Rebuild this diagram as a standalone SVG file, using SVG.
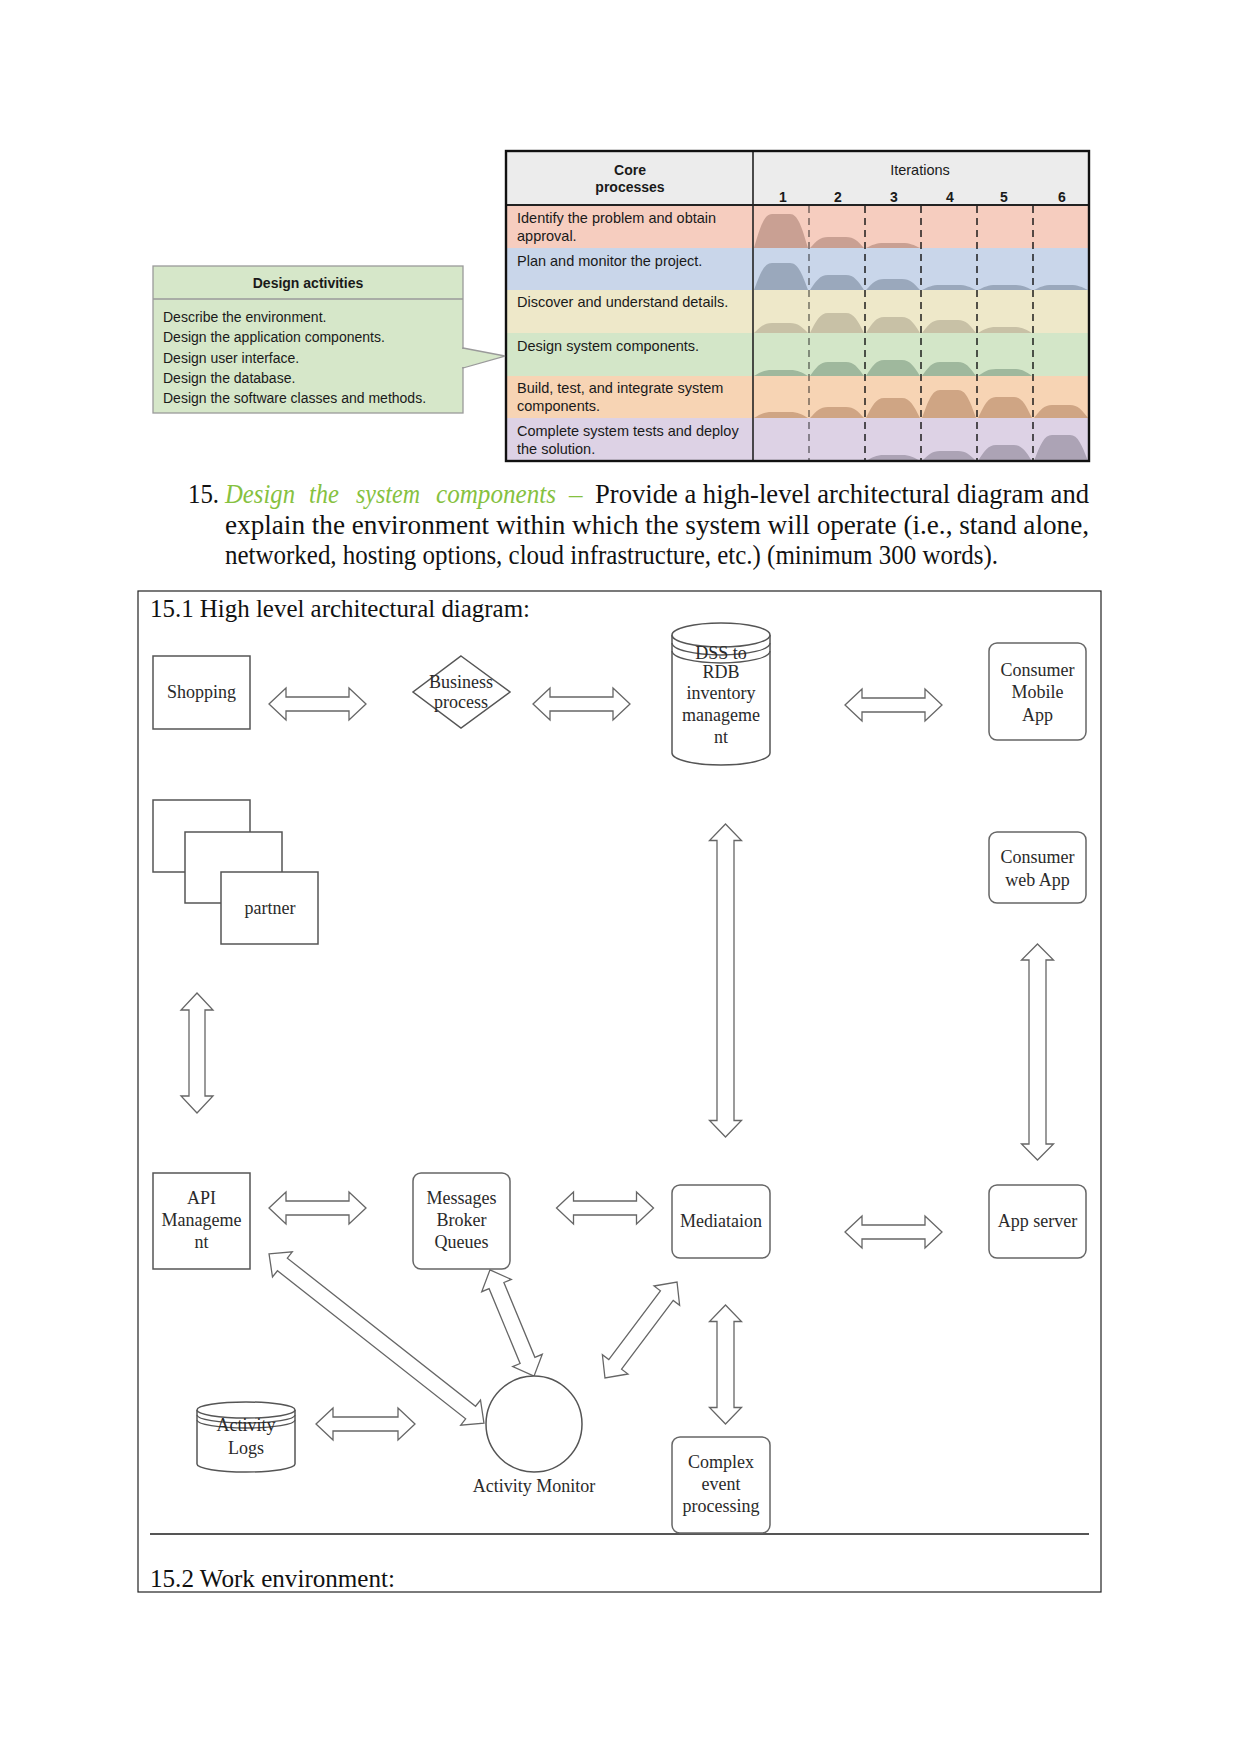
<svg xmlns="http://www.w3.org/2000/svg" xmlns:xlink="http://www.w3.org/1999/xlink" width="1241" height="1754" viewBox="0 0 1241 1754">
<style>
.sans{font-family:"Liberation Sans",Arial,sans-serif;fill:#1a1a1a}
.tt{font-size:14.5px}
.hd{font-size:14px;font-weight:bold}
.serif{font-family:"Liberation Serif","Times New Roman",serif}
.body{font-size:27px;fill:#111}
.lbl{font-family:"Liberation Serif","Times New Roman",serif;font-size:18px;fill:#2a2a2a;text-anchor:middle}
.box{fill:#fff;stroke:#555;stroke-width:1.5}
.rbox{fill:#fff;stroke:#666;stroke-width:1.5}
.dbl{fill:#fff;stroke:#666;stroke-width:1.3;stroke-linejoin:miter}
.dash{stroke:#111;stroke-width:1.4;stroke-dasharray:7,5}
.grn{font-style:italic;fill:#86c13f}
</style>
<defs>
<path id="m" d="M0,0 C6,-18 10,-30 18,-30 L36,-30 C44,-30 48,-18 54,0 Z"/>
</defs>
<rect width="1241" height="1754" fill="#fff"/>

<g id="iterations-table">
<rect x="506" y="151" width="583" height="54" fill="#ececec"/>
<rect x="506" y="205" width="583" height="43" fill="#f6cdbf"/>
<rect x="506" y="248" width="583" height="42" fill="#c9d6ea"/>
<rect x="506" y="290" width="583" height="43" fill="#eee8c9"/>
<rect x="506" y="333" width="583" height="43" fill="#d3e6c8"/>
<rect x="506" y="376" width="583" height="42" fill="#f7d4b4"/>
<rect x="506" y="418" width="583" height="43" fill="#ddd2e5"/>
<g fill="#c9a093">
<use xlink:href="#m" transform="translate(754,248) scale(1,1.133)"/>
<use xlink:href="#m" transform="translate(810,248) scale(1,0.367)"/>
<use xlink:href="#m" transform="translate(866,248) scale(1,0.167)"/>
</g>
<g fill="#9aa8bc">
<use xlink:href="#m" transform="translate(754,290) scale(1,0.9)"/>
<use xlink:href="#m" transform="translate(810,290) scale(1,0.5)"/>
<use xlink:href="#m" transform="translate(866,290) scale(1,0.367)"/>
<use xlink:href="#m" transform="translate(922,290) scale(1,0.167)"/>
<use xlink:href="#m" transform="translate(978,290) scale(1,0.167)"/>
<use xlink:href="#m" transform="translate(1034,290) scale(1,0.167)"/>
</g>
<g fill="#c8c1a6">
<use xlink:href="#m" transform="translate(754,333) scale(1,0.333)"/>
<use xlink:href="#m" transform="translate(810,333) scale(1,0.667)"/>
<use xlink:href="#m" transform="translate(866,333) scale(1,0.533)"/>
<use xlink:href="#m" transform="translate(922,333) scale(1,0.433)"/>
<use xlink:href="#m" transform="translate(978,333) scale(1,0.2)"/>
</g>
<g fill="#9fb89d">
<use xlink:href="#m" transform="translate(754,376) scale(1,0.2)"/>
<use xlink:href="#m" transform="translate(810,376) scale(1,0.467)"/>
<use xlink:href="#m" transform="translate(866,376) scale(1,0.533)"/>
<use xlink:href="#m" transform="translate(922,376) scale(1,0.467)"/>
<use xlink:href="#m" transform="translate(978,376) scale(1,0.233)"/>
</g>
<g fill="#cfa584">
<use xlink:href="#m" transform="translate(754,418) scale(1,0.2)"/>
<use xlink:href="#m" transform="translate(810,418) scale(1,0.367)"/>
<use xlink:href="#m" transform="translate(866,418) scale(1,0.667)"/>
<use xlink:href="#m" transform="translate(922,418) scale(1,0.933)"/>
<use xlink:href="#m" transform="translate(978,418) scale(1,0.7)"/>
<use xlink:href="#m" transform="translate(1034,418) scale(1,0.433)"/>
</g>
<g fill="#aca3b5">
<use xlink:href="#m" transform="translate(866,461) scale(1,0.2)"/>
<use xlink:href="#m" transform="translate(922,461) scale(1,0.333)"/>
<use xlink:href="#m" transform="translate(978,461) scale(1,0.533)"/>
<use xlink:href="#m" transform="translate(1034,461) scale(1,0.867)"/>
</g>
<line class="dash" x1="809" y1="206" x2="809" y2="461" stroke-opacity="0.6"/>
<line class="dash" x1="865" y1="206" x2="865" y2="461"/>
<line class="dash" x1="921" y1="206" x2="921" y2="461"/>
<line class="dash" x1="977" y1="206" x2="977" y2="461"/>
<line class="dash" x1="1033" y1="206" x2="1033" y2="461"/>
<line x1="753" y1="151" x2="753" y2="461" stroke="#222" stroke-width="1.6"/>
<line x1="506" y1="205" x2="1089" y2="205" stroke="#222" stroke-width="2"/>
<rect x="506" y="151" width="583" height="310" fill="none" stroke="#111" stroke-width="2.4"/>
<text class="sans hd" x="630" y="175" text-anchor="middle">Core</text>
<text class="sans hd" x="630" y="192" text-anchor="middle">processes</text>
<text class="sans" x="920" y="175" text-anchor="middle" font-size="14.5">Iterations</text>
<g class="sans hd" text-anchor="middle">
<text x="783" y="202">1</text>
<text x="838" y="202">2</text>
<text x="894" y="202">3</text>
<text x="950" y="202">4</text>
<text x="1004" y="202">5</text>
<text x="1062" y="202">6</text>
</g>
<g class="sans tt">
<text x="517" y="223">Identify the problem and obtain</text>
<text x="517" y="241">approval.</text>
<text x="517" y="266">Plan and monitor the project.</text>
<text x="517" y="307">Discover and understand details.</text>
<text x="517" y="351">Design system components.</text>
<text x="517" y="393">Build, test, and integrate system</text>
<text x="517" y="411">components.</text>
<text x="517" y="436">Complete system tests and deploy</text>
<text x="517" y="454">the solution.</text>
</g>
</g>

<g id="design-activities">
<rect x="153" y="266" width="310" height="147" fill="#d6e7c9" stroke="#9a9a9a" stroke-width="1.3"/>
<line x1="153" y1="299" x2="463" y2="299" stroke="#9a9a9a" stroke-width="1.3"/>
<polygon points="463,348 505,356 463,368" fill="#d6e7c9" stroke="#9a9a9a" stroke-width="1.3"/>
<line x1="463" y1="349" x2="463" y2="367" stroke="#d6e7c9" stroke-width="2.5"/>
<text class="sans hd" x="308" y="288" text-anchor="middle">Design activities</text>
<g class="sans" font-size="14">
<text x="163" y="322">Describe the environment.</text>
<text x="163" y="342">Design the application components.</text>
<text x="163" y="363">Design user interface.</text>
<text x="163" y="383">Design the database.</text>
<text x="163" y="403">Design the software classes and methods.</text>
</g>
</g>

<g id="paragraph" class="serif body">
<text x="188" y="503" textLength="31" lengthAdjust="spacingAndGlyphs">15.</text>
<text class="grn" x="225" y="503" textLength="70" lengthAdjust="spacingAndGlyphs">Design</text>
<text class="grn" x="309" y="503" textLength="30" lengthAdjust="spacingAndGlyphs">the</text>
<text class="grn" x="356" y="503" textLength="64" lengthAdjust="spacingAndGlyphs">system</text>
<text class="grn" x="436" y="503" textLength="120" lengthAdjust="spacingAndGlyphs">components</text>
<text class="grn" x="569" y="503">–</text>
<text x="595" y="503" textLength="494" lengthAdjust="spacingAndGlyphs">Provide a high-level architectural diagram and</text>
<text x="225" y="534" textLength="864" lengthAdjust="spacingAndGlyphs">explain the environment within which the system will operate (i.e., stand alone,</text>
<text x="225" y="564" textLength="773" lengthAdjust="spacingAndGlyphs">networked, hosting options, cloud infrastructure, etc.) (minimum 300 words).</text>
</g>

<g id="frame">
<rect x="138" y="591" width="963" height="1001" fill="none" stroke="#222" stroke-width="1.2"/>
<text class="serif" font-size="26" fill="#111" x="150" y="617" textLength="380" lengthAdjust="spacingAndGlyphs">15.1 High level architectural diagram:</text>
<line x1="150" y1="1534" x2="1089" y2="1534" stroke="#555" stroke-width="2"/>
<text class="serif" font-size="26" fill="#111" x="150" y="1587" textLength="245" lengthAdjust="spacingAndGlyphs">15.2 Work environment:</text>
</g>

<g id="connectors">
<polygon class="dbl" transform="translate(317.5,704)" points="-48.5,0 -31.5,-16 -31.5,-7 31.5,-7 31.5,-16 48.5,0 31.5,16 31.5,7 -31.5,7 -31.5,16"/>
<polygon class="dbl" transform="translate(581.5,704)" points="-48.5,0 -31.5,-16 -31.5,-7 31.5,-7 31.5,-16 48.5,0 31.5,16 31.5,7 -31.5,7 -31.5,16"/>
<polygon class="dbl" transform="translate(893.5,705)" points="-48.5,0 -31.5,-16 -31.5,-7 31.5,-7 31.5,-16 48.5,0 31.5,16 31.5,7 -31.5,7 -31.5,16"/>
<polygon class="dbl" transform="translate(317.5,1208)" points="-48.5,0 -31.5,-16 -31.5,-7 31.5,-7 31.5,-16 48.5,0 31.5,16 31.5,7 -31.5,7 -31.5,16"/>
<polygon class="dbl" transform="translate(605,1208)" points="-48.5,0 -31.5,-16 -31.5,-7 31.5,-7 31.5,-16 48.5,0 31.5,16 31.5,7 -31.5,7 -31.5,16"/>
<polygon class="dbl" transform="translate(893.5,1232)" points="-48.5,0 -31.5,-16 -31.5,-7 31.5,-7 31.5,-16 48.5,0 31.5,16 31.5,7 -31.5,7 -31.5,16"/>
<polygon class="dbl" transform="translate(365.5,1424)" points="-49.5,0 -32.5,-16 -32.5,-7 32.5,-7 32.5,-16 49.5,0 32.5,16 32.5,7 -32.5,7 -32.5,16"/>
<polygon class="dbl" transform="translate(197,1053) rotate(90)" points="-60,0 -43,-16 -43,-8 43,-8 43,-16 60,0 43,16 43,8 -43,8 -43,16"/>
<polygon class="dbl" transform="translate(725.5,980.5) rotate(90)" points="-156.5,0 -140,-16 -140,-8.5 140,-8.5 140,-16 156.5,0 140,16 140,8.5 -140,8.5 -140,16"/>
<polygon class="dbl" transform="translate(1037.5,1052) rotate(90)" points="-108,0 -92,-16 -92,-8.5 92,-8.5 92,-16 108,0 92,16 92,8.5 -92,8.5 -92,16"/>
<polygon class="dbl" transform="translate(725.5,1364.5) rotate(90)" points="-59.5,0 -43,-16 -43,-8.5 43,-8.5 43,-16 59.5,0 43,16 43,8.5 -43,8.5 -43,16"/>
<polygon class="dbl" transform="translate(376.5,1338.5) rotate(38.2)" points="-136.75,0 -119.75,-16 -119.75,-8 119.75,-8 119.75,-16 136.75,0 119.75,16 119.75,8 -119.75,8 -119.75,16"/>
<polygon class="dbl" transform="translate(512,1323) rotate(67.5)" points="-57.5,0 -40.5,-16 -40.5,-8 40.5,-8 40.5,-16 57.5,0 40.5,16 40.5,8 -40.5,8 -40.5,16"/>
<polygon class="dbl" transform="translate(641,1330) rotate(-53.1)" points="-60,0 -43,-16 -43,-8 43,-8 43,-16 60,0 43,16 43,8 -43,8 -43,16"/>
</g>

<g id="shopping">
<rect class="box" x="153" y="656" width="97" height="73"/>
<text class="lbl" x="201.5" y="698">Shopping</text>
</g>
<g id="business-process">
<polygon class="box" points="461,656 510,692 461,728 413,692"/>
<text class="lbl" x="461" y="688">Business</text>
<text class="lbl" x="461" y="708">process</text>
</g>
<g id="dss-rdb">
<path class="box" d="M672,635 L672,753 A49,12 0 0 0 770,753 L770,635"/>
<ellipse cx="721" cy="635" rx="49" ry="12" fill="#fff" stroke="#555" stroke-width="1.5"/>
<path d="M672,643 A49,12 0 0 0 770,643 M672,651 A49,12 0 0 0 770,651" fill="none" stroke="#555" stroke-width="1.3"/>
<text class="lbl" x="721" y="659">DSS to</text>
<text class="lbl" x="721" y="678">RDB</text>
<text class="lbl" x="721" y="699">inventory</text>
<text class="lbl" x="721" y="721">manageme</text>
<text class="lbl" x="721" y="743">nt</text>
</g>
<g id="consumer-mobile-app">
<rect class="rbox" x="989" y="643" width="97" height="97" rx="8"/>
<text class="lbl" x="1037.5" y="676">Consumer</text>
<text class="lbl" x="1037.5" y="698">Mobile</text>
<text class="lbl" x="1037.5" y="721">App</text>
</g>
<g id="partner">
<rect class="box" x="153" y="800" width="97" height="72"/>
<rect class="box" x="185" y="832" width="97" height="71"/>
<rect class="box" x="221" y="872" width="97" height="72"/>
<text class="lbl" x="270" y="914">partner</text>
</g>
<g id="consumer-web-app">
<rect class="rbox" x="989" y="832" width="97" height="71" rx="8"/>
<text class="lbl" x="1037.5" y="863">Consumer</text>
<text class="lbl" x="1037.5" y="886">web App</text>
</g>
<g id="api-management">
<rect class="box" x="153" y="1173" width="97" height="96"/>
<text class="lbl" x="201.5" y="1204">API</text>
<text class="lbl" x="201.5" y="1226">Manageme</text>
<text class="lbl" x="201.5" y="1248">nt</text>
</g>
<g id="messages-broker-queues">
<rect class="rbox" x="413" y="1173" width="97" height="96" rx="8"/>
<text class="lbl" x="461.5" y="1204">Messages</text>
<text class="lbl" x="461.5" y="1226">Broker</text>
<text class="lbl" x="461.5" y="1248">Queues</text>
</g>
<g id="mediation">
<rect class="rbox" x="672" y="1185" width="98" height="73" rx="8"/>
<text class="lbl" x="721" y="1227">Mediataion</text>
</g>
<g id="app-server">
<rect class="rbox" x="989" y="1185" width="97" height="73" rx="8"/>
<text class="lbl" x="1037.5" y="1227">App server</text>
</g>
<g id="activity-logs">
<path class="box" d="M197,1410 L197,1464 A49,8 0 0 0 295,1464 L295,1410"/>
<ellipse cx="246" cy="1410" rx="49" ry="8" fill="#fff" stroke="#555" stroke-width="1.5"/>
<path d="M197,1415 A49,8 0 0 0 295,1415 M197,1420 A49,8 0 0 0 295,1420" fill="none" stroke="#555" stroke-width="1.3"/>
<text class="lbl" x="246" y="1431">Activity</text>
<text class="lbl" x="246" y="1454">Logs</text>
</g>
<g id="activity-monitor">
<circle cx="534" cy="1424" r="48" fill="#fff" stroke="#555" stroke-width="1.5"/>
<text class="lbl" x="534" y="1492">Activity Monitor</text>
</g>
<g id="complex-event-processing">
<rect class="rbox" x="672" y="1437" width="98" height="96" rx="8"/>
<text class="lbl" x="721" y="1468">Complex</text>
<text class="lbl" x="721" y="1490">event</text>
<text class="lbl" x="721" y="1512">processing</text>
</g>
</svg>
